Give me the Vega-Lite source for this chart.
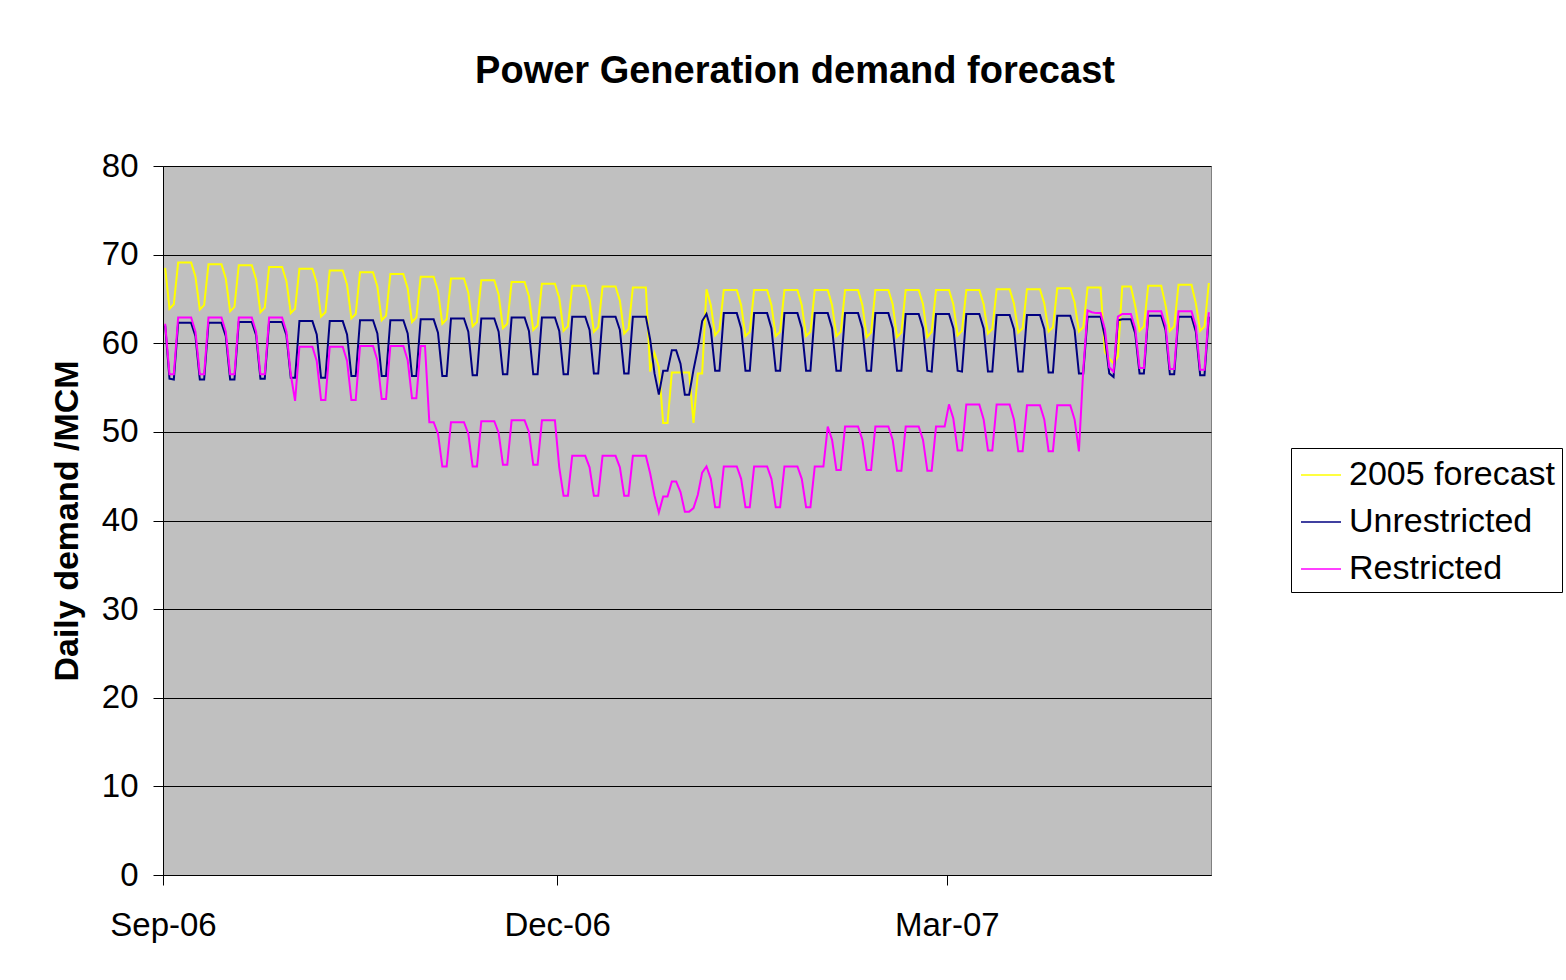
{
"$schema":"https://vega.github.io/schema/vega-lite/v6.json",
"width":1048,"height":709,
"autosize":{"type":"none"},
"padding":{"left":163,"top":166,"right":355,"bottom":105},
"background":"white",
"config":{"view":{"fill":"#C0C0C0","stroke":"#808080","strokeWidth":1},"font":"Liberation Sans"},
"title":{"text":"Power Generation demand forecast","font":"Liberation Sans","fontSize":38,"fontWeight":"bold","color":"black","anchor":"middle","frame":"group","dx":108,"baseline":"alphabetic","offset":29},
"data":{"values":[
{"d":"2006-09-01","f":68.5,"u":62.0,"r":62.2},
{"d":"2006-09-02","f":63.9,"u":56.0,"r":56.5},
{"d":"2006-09-03","f":64.4,"u":55.9,"r":56.5},
{"d":"2006-09-04","f":69.1,"u":62.3,"r":62.9},
{"d":"2006-09-05","f":69.1,"u":62.3,"r":62.9},
{"d":"2006-09-06","f":69.1,"u":62.3,"r":62.9},
{"d":"2006-09-07","f":69.1,"u":62.3,"r":62.9},
{"d":"2006-09-08","f":67.5,"u":60.8,"r":61.3},
{"d":"2006-09-09","f":63.8,"u":55.9,"r":56.5},
{"d":"2006-09-10","f":64.3,"u":55.9,"r":56.5},
{"d":"2006-09-11","f":68.9,"u":62.3,"r":62.9},
{"d":"2006-09-12","f":68.9,"u":62.3,"r":62.9},
{"d":"2006-09-13","f":68.9,"u":62.3,"r":62.9},
{"d":"2006-09-14","f":68.9,"u":62.3,"r":62.9},
{"d":"2006-09-15","f":67.3,"u":60.8,"r":61.3},
{"d":"2006-09-16","f":63.6,"u":55.9,"r":56.5},
{"d":"2006-09-17","f":64.1,"u":55.9,"r":56.5},
{"d":"2006-09-18","f":68.8,"u":62.4,"r":62.9},
{"d":"2006-09-19","f":68.8,"u":62.4,"r":62.9},
{"d":"2006-09-20","f":68.8,"u":62.4,"r":62.9},
{"d":"2006-09-21","f":68.8,"u":62.4,"r":62.9},
{"d":"2006-09-22","f":67.2,"u":60.9,"r":61.3},
{"d":"2006-09-23","f":63.5,"u":56.0,"r":56.5},
{"d":"2006-09-24","f":64.0,"u":56.0,"r":56.5},
{"d":"2006-09-25","f":68.6,"u":62.4,"r":62.9},
{"d":"2006-09-26","f":68.6,"u":62.4,"r":62.9},
{"d":"2006-09-27","f":68.6,"u":62.4,"r":62.9},
{"d":"2006-09-28","f":68.6,"u":62.4,"r":62.9},
{"d":"2006-09-29","f":67.0,"u":60.9,"r":61.3},
{"d":"2006-09-30","f":63.4,"u":56.1,"r":56.5},
{"d":"2006-10-01","f":63.9,"u":56.1,"r":53.5},
{"d":"2006-10-02","f":68.4,"u":62.5,"r":59.6},
{"d":"2006-10-03","f":68.4,"u":62.5,"r":59.6},
{"d":"2006-10-04","f":68.4,"u":62.5,"r":59.6},
{"d":"2006-10-05","f":68.4,"u":62.5,"r":59.6},
{"d":"2006-10-06","f":66.8,"u":61.0,"r":58.0},
{"d":"2006-10-07","f":63.0,"u":56.1,"r":53.6},
{"d":"2006-10-08","f":63.5,"u":56.1,"r":53.6},
{"d":"2006-10-09","f":68.2,"u":62.5,"r":59.6},
{"d":"2006-10-10","f":68.2,"u":62.5,"r":59.6},
{"d":"2006-10-11","f":68.2,"u":62.5,"r":59.6},
{"d":"2006-10-12","f":68.2,"u":62.5,"r":59.6},
{"d":"2006-10-13","f":66.6,"u":61.0,"r":58.0},
{"d":"2006-10-14","f":62.8,"u":56.3,"r":53.6},
{"d":"2006-10-15","f":63.3,"u":56.3,"r":53.6},
{"d":"2006-10-16","f":68.0,"u":62.6,"r":59.7},
{"d":"2006-10-17","f":68.0,"u":62.6,"r":59.7},
{"d":"2006-10-18","f":68.0,"u":62.6,"r":59.7},
{"d":"2006-10-19","f":68.0,"u":62.6,"r":59.7},
{"d":"2006-10-20","f":66.4,"u":61.1,"r":58.1},
{"d":"2006-10-21","f":62.6,"u":56.3,"r":53.7},
{"d":"2006-10-22","f":63.1,"u":56.3,"r":53.7},
{"d":"2006-10-23","f":67.8,"u":62.6,"r":59.7},
{"d":"2006-10-24","f":67.8,"u":62.6,"r":59.7},
{"d":"2006-10-25","f":67.8,"u":62.6,"r":59.7},
{"d":"2006-10-26","f":67.8,"u":62.6,"r":59.7},
{"d":"2006-10-27","f":66.2,"u":61.1,"r":58.1},
{"d":"2006-10-28","f":62.4,"u":56.3,"r":53.8},
{"d":"2006-10-29","f":62.9,"u":56.3,"r":53.8},
{"d":"2006-10-30","f":67.5,"u":62.7,"r":59.7},
{"d":"2006-10-31","f":67.5,"u":62.7,"r":59.7},
{"d":"2006-11-01","f":67.5,"u":62.7,"r":51.1},
{"d":"2006-11-02","f":67.5,"u":62.7,"r":51.1},
{"d":"2006-11-03","f":65.9,"u":61.2,"r":49.8},
{"d":"2006-11-04","f":62.2,"u":56.3,"r":46.1},
{"d":"2006-11-05","f":62.7,"u":56.3,"r":46.1},
{"d":"2006-11-06","f":67.3,"u":62.8,"r":51.1},
{"d":"2006-11-07","f":67.3,"u":62.8,"r":51.1},
{"d":"2006-11-08","f":67.3,"u":62.8,"r":51.1},
{"d":"2006-11-09","f":67.3,"u":62.8,"r":51.1},
{"d":"2006-11-10","f":65.7,"u":61.3,"r":49.8},
{"d":"2006-11-11","f":61.9,"u":56.4,"r":46.1},
{"d":"2006-11-12","f":62.4,"u":56.4,"r":46.1},
{"d":"2006-11-13","f":67.1,"u":62.8,"r":51.2},
{"d":"2006-11-14","f":67.1,"u":62.8,"r":51.2},
{"d":"2006-11-15","f":67.1,"u":62.8,"r":51.2},
{"d":"2006-11-16","f":67.1,"u":62.8,"r":51.2},
{"d":"2006-11-17","f":65.5,"u":61.3,"r":49.9},
{"d":"2006-11-18","f":61.7,"u":56.5,"r":46.3},
{"d":"2006-11-19","f":62.2,"u":56.5,"r":46.3},
{"d":"2006-11-20","f":66.9,"u":62.9,"r":51.3},
{"d":"2006-11-21","f":66.9,"u":62.9,"r":51.3},
{"d":"2006-11-22","f":66.9,"u":62.9,"r":51.3},
{"d":"2006-11-23","f":66.9,"u":62.9,"r":51.3},
{"d":"2006-11-24","f":65.3,"u":61.4,"r":50.0},
{"d":"2006-11-25","f":61.5,"u":56.5,"r":46.3},
{"d":"2006-11-26","f":62.0,"u":56.5,"r":46.3},
{"d":"2006-11-27","f":66.7,"u":62.9,"r":51.3},
{"d":"2006-11-28","f":66.7,"u":62.9,"r":51.3},
{"d":"2006-11-29","f":66.7,"u":62.9,"r":51.3},
{"d":"2006-11-30","f":66.7,"u":62.9,"r":51.3},
{"d":"2006-12-01","f":65.1,"u":61.4,"r":46.0},
{"d":"2006-12-02","f":61.4,"u":56.5,"r":42.8},
{"d":"2006-12-03","f":61.9,"u":56.5,"r":42.8},
{"d":"2006-12-04","f":66.5,"u":63.0,"r":47.3},
{"d":"2006-12-05","f":66.5,"u":63.0,"r":47.3},
{"d":"2006-12-06","f":66.5,"u":63.0,"r":47.3},
{"d":"2006-12-07","f":66.5,"u":63.0,"r":47.3},
{"d":"2006-12-08","f":64.9,"u":61.5,"r":46.0},
{"d":"2006-12-09","f":61.3,"u":56.6,"r":42.8},
{"d":"2006-12-10","f":61.8,"u":56.6,"r":42.8},
{"d":"2006-12-11","f":66.4,"u":63.0,"r":47.3},
{"d":"2006-12-12","f":66.4,"u":63.0,"r":47.3},
{"d":"2006-12-13","f":66.4,"u":63.0,"r":47.3},
{"d":"2006-12-14","f":66.4,"u":63.0,"r":47.3},
{"d":"2006-12-15","f":64.8,"u":61.5,"r":46.0},
{"d":"2006-12-16","f":61.1,"u":56.6,"r":42.8},
{"d":"2006-12-17","f":61.6,"u":56.6,"r":42.8},
{"d":"2006-12-18","f":66.3,"u":63.0,"r":47.3},
{"d":"2006-12-19","f":66.3,"u":63.0,"r":47.3},
{"d":"2006-12-20","f":66.3,"u":63.0,"r":47.3},
{"d":"2006-12-21","f":66.3,"u":63.0,"r":47.3},
{"d":"2006-12-22","f":56.8,"u":60.4,"r":45.3},
{"d":"2006-12-23","f":58.9,"u":56.6,"r":42.8},
{"d":"2006-12-24","f":57.3,"u":54.2,"r":40.9},
{"d":"2006-12-25","f":51.0,"u":56.9,"r":42.7},
{"d":"2006-12-26","f":51.0,"u":56.9,"r":42.7},
{"d":"2006-12-27","f":56.7,"u":59.2,"r":44.4},
{"d":"2006-12-28","f":56.7,"u":59.2,"r":44.4},
{"d":"2006-12-29","f":56.7,"u":57.7,"r":43.2},
{"d":"2006-12-30","f":56.7,"u":54.2,"r":41.0},
{"d":"2006-12-31","f":56.7,"u":54.2,"r":41.0},
{"d":"2007-01-01","f":51.0,"u":57.0,"r":41.4},
{"d":"2007-01-02","f":56.6,"u":59.4,"r":42.9},
{"d":"2007-01-03","f":56.6,"u":62.5,"r":45.4},
{"d":"2007-01-04","f":66.1,"u":63.3,"r":46.1},
{"d":"2007-01-05","f":64.3,"u":61.6,"r":44.7},
{"d":"2007-01-06","f":60.9,"u":56.9,"r":41.5},
{"d":"2007-01-07","f":61.5,"u":56.9,"r":41.5},
{"d":"2007-01-08","f":66.0,"u":63.4,"r":46.1},
{"d":"2007-01-09","f":66.0,"u":63.4,"r":46.1},
{"d":"2007-01-10","f":66.0,"u":63.4,"r":46.1},
{"d":"2007-01-11","f":66.0,"u":63.4,"r":46.1},
{"d":"2007-01-12","f":64.3,"u":61.7,"r":44.7},
{"d":"2007-01-13","f":60.8,"u":56.9,"r":41.5},
{"d":"2007-01-14","f":61.3,"u":56.9,"r":41.5},
{"d":"2007-01-15","f":66.0,"u":63.4,"r":46.1},
{"d":"2007-01-16","f":66.0,"u":63.4,"r":46.1},
{"d":"2007-01-17","f":66.0,"u":63.4,"r":46.1},
{"d":"2007-01-18","f":66.0,"u":63.4,"r":46.1},
{"d":"2007-01-19","f":64.3,"u":61.7,"r":44.7},
{"d":"2007-01-20","f":60.8,"u":56.9,"r":41.5},
{"d":"2007-01-21","f":61.3,"u":56.9,"r":41.5},
{"d":"2007-01-22","f":66.0,"u":63.4,"r":46.1},
{"d":"2007-01-23","f":66.0,"u":63.4,"r":46.1},
{"d":"2007-01-24","f":66.0,"u":63.4,"r":46.1},
{"d":"2007-01-25","f":66.0,"u":63.4,"r":46.1},
{"d":"2007-01-26","f":64.3,"u":61.7,"r":44.7},
{"d":"2007-01-27","f":60.8,"u":56.9,"r":41.5},
{"d":"2007-01-28","f":61.3,"u":56.9,"r":41.5},
{"d":"2007-01-29","f":66.0,"u":63.4,"r":46.1},
{"d":"2007-01-30","f":66.0,"u":63.4,"r":46.1},
{"d":"2007-01-31","f":66.0,"u":63.4,"r":46.1},
{"d":"2007-02-01","f":66.0,"u":63.4,"r":50.6},
{"d":"2007-02-02","f":64.3,"u":61.7,"r":49.1},
{"d":"2007-02-03","f":60.8,"u":56.9,"r":45.7},
{"d":"2007-02-04","f":61.3,"u":56.9,"r":45.7},
{"d":"2007-02-05","f":66.0,"u":63.4,"r":50.6},
{"d":"2007-02-06","f":66.0,"u":63.4,"r":50.6},
{"d":"2007-02-07","f":66.0,"u":63.4,"r":50.6},
{"d":"2007-02-08","f":66.0,"u":63.4,"r":50.6},
{"d":"2007-02-09","f":64.3,"u":61.7,"r":49.1},
{"d":"2007-02-10","f":60.7,"u":56.9,"r":45.7},
{"d":"2007-02-11","f":61.2,"u":56.9,"r":45.7},
{"d":"2007-02-12","f":66.0,"u":63.4,"r":50.6},
{"d":"2007-02-13","f":66.0,"u":63.4,"r":50.6},
{"d":"2007-02-14","f":66.0,"u":63.4,"r":50.6},
{"d":"2007-02-15","f":66.0,"u":63.4,"r":50.6},
{"d":"2007-02-16","f":64.4,"u":61.7,"r":49.1},
{"d":"2007-02-17","f":60.7,"u":56.9,"r":45.6},
{"d":"2007-02-18","f":61.2,"u":56.9,"r":45.6},
{"d":"2007-02-19","f":66.0,"u":63.3,"r":50.6},
{"d":"2007-02-20","f":66.0,"u":63.3,"r":50.6},
{"d":"2007-02-21","f":66.0,"u":63.3,"r":50.6},
{"d":"2007-02-22","f":66.0,"u":63.3,"r":50.6},
{"d":"2007-02-23","f":64.4,"u":61.7,"r":49.1},
{"d":"2007-02-24","f":60.7,"u":56.9,"r":45.6},
{"d":"2007-02-25","f":61.3,"u":56.8,"r":45.6},
{"d":"2007-02-26","f":66.0,"u":63.3,"r":50.6},
{"d":"2007-02-27","f":66.0,"u":63.3,"r":50.6},
{"d":"2007-02-28","f":66.0,"u":63.3,"r":50.6},
{"d":"2007-03-01","f":66.0,"u":63.3,"r":53.1},
{"d":"2007-03-02","f":64.4,"u":61.7,"r":51.5},
{"d":"2007-03-03","f":60.9,"u":56.9,"r":47.9},
{"d":"2007-03-04","f":61.4,"u":56.8,"r":47.9},
{"d":"2007-03-05","f":66.0,"u":63.3,"r":53.1},
{"d":"2007-03-06","f":66.0,"u":63.3,"r":53.1},
{"d":"2007-03-07","f":66.0,"u":63.3,"r":53.1},
{"d":"2007-03-08","f":66.0,"u":63.3,"r":53.1},
{"d":"2007-03-09","f":64.4,"u":61.7,"r":51.4},
{"d":"2007-03-10","f":61.1,"u":56.8,"r":47.9},
{"d":"2007-03-11","f":61.6,"u":56.8,"r":47.9},
{"d":"2007-03-12","f":66.1,"u":63.2,"r":53.1},
{"d":"2007-03-13","f":66.1,"u":63.2,"r":53.1},
{"d":"2007-03-14","f":66.1,"u":63.2,"r":53.1},
{"d":"2007-03-15","f":66.1,"u":63.2,"r":53.1},
{"d":"2007-03-16","f":64.5,"u":61.6,"r":51.4},
{"d":"2007-03-17","f":61.2,"u":56.8,"r":47.8},
{"d":"2007-03-18","f":61.7,"u":56.8,"r":47.8},
{"d":"2007-03-19","f":66.1,"u":63.2,"r":53.0},
{"d":"2007-03-20","f":66.1,"u":63.2,"r":53.0},
{"d":"2007-03-21","f":66.1,"u":63.2,"r":53.0},
{"d":"2007-03-22","f":66.1,"u":63.2,"r":53.0},
{"d":"2007-03-23","f":64.5,"u":61.6,"r":51.4},
{"d":"2007-03-24","f":61.3,"u":56.7,"r":47.8},
{"d":"2007-03-25","f":61.8,"u":56.7,"r":47.8},
{"d":"2007-03-26","f":66.2,"u":63.1,"r":53.0},
{"d":"2007-03-27","f":66.2,"u":63.1,"r":53.0},
{"d":"2007-03-28","f":66.2,"u":63.1,"r":53.0},
{"d":"2007-03-29","f":66.2,"u":63.1,"r":53.0},
{"d":"2007-03-30","f":64.6,"u":61.5,"r":51.4},
{"d":"2007-03-31","f":61.3,"u":56.6,"r":47.8},
{"d":"2007-04-01","f":61.8,"u":56.6,"r":57.0},
{"d":"2007-04-02","f":66.3,"u":63.0,"r":63.7},
{"d":"2007-04-03","f":66.3,"u":63.0,"r":63.5},
{"d":"2007-04-04","f":66.3,"u":63.0,"r":63.4},
{"d":"2007-04-05","f":66.3,"u":63.0,"r":63.4},
{"d":"2007-04-06","f":59.0,"u":60.7,"r":61.6},
{"d":"2007-04-07","f":58.3,"u":56.6,"r":57.3},
{"d":"2007-04-08","f":57.7,"u":56.2,"r":56.8},
{"d":"2007-04-09","f":58.5,"u":62.6,"r":63.0},
{"d":"2007-04-10","f":66.4,"u":62.7,"r":63.3},
{"d":"2007-04-11","f":66.4,"u":62.7,"r":63.3},
{"d":"2007-04-12","f":66.4,"u":62.7,"r":63.3},
{"d":"2007-04-13","f":64.2,"u":61.1,"r":61.7},
{"d":"2007-04-14","f":61.4,"u":56.6,"r":57.2},
{"d":"2007-04-15","f":61.9,"u":56.6,"r":57.2},
{"d":"2007-04-16","f":66.5,"u":63.1,"r":63.6},
{"d":"2007-04-17","f":66.5,"u":63.1,"r":63.6},
{"d":"2007-04-18","f":66.5,"u":63.1,"r":63.6},
{"d":"2007-04-19","f":66.5,"u":63.1,"r":63.6},
{"d":"2007-04-20","f":64.3,"u":61.5,"r":62.0},
{"d":"2007-04-21","f":61.4,"u":56.5,"r":57.1},
{"d":"2007-04-22","f":61.9,"u":56.5,"r":57.1},
{"d":"2007-04-23","f":66.6,"u":63.0,"r":63.6},
{"d":"2007-04-24","f":66.6,"u":63.0,"r":63.6},
{"d":"2007-04-25","f":66.6,"u":63.0,"r":63.6},
{"d":"2007-04-26","f":66.6,"u":63.0,"r":63.6},
{"d":"2007-04-27","f":64.5,"u":61.3,"r":61.9},
{"d":"2007-04-28","f":61.4,"u":56.4,"r":57.0},
{"d":"2007-04-29","f":61.9,"u":56.4,"r":57.0},
{"d":"2007-04-30","f":66.8,"u":63.0,"r":63.5}
]},
"encoding":{
"x":{"field":"d","type":"temporal","timeUnit":"utcyearmonthdate","bandPosition":0.5,"title":null,
"scale":{"type":"utc","domain":[{"year":2006,"month":9,"date":1,"utc":true},{"year":2007,"month":5,"date":1,"utc":true}]},
"axis":{"values":[{"year":2006,"month":9,"date":1,"utc":true},{"year":2006,"month":12,"date":1,"utc":true},{"year":2007,"month":3,"date":1,"utc":true}],
"format":"%b-%y","grid":false,"domainColor":"black","domainWidth":1,"tickColor":"black","tickSize":10,"tickWidth":1,
"labelFont":"Liberation Sans","labelFontSize":33,"labelColor":"black","labelBaseline":"alphabetic","labelPadding":50,"labelFlush":false,"labelOverlap":false,"labelAlign":"center"}}
},
"layer":[
{"mark":{"type":"line","strokeWidth":2,"clip":true},
 "encoding":{"y":{"field":"f","type":"quantitative","title":"Daily demand /MCM",
   "scale":{"domain":[0,80],"nice":false,"zero":true},
   "axis":{"values":[0,10,20,30,40,50,60,70,80],"grid":true,"gridColor":"black","gridWidth":1,"gridOpacity":1,
   "domainColor":"black","domainWidth":1,"tickColor":"black","tickSize":10,"tickWidth":1,
   "labelFont":"Liberation Sans","labelFontSize":33,"labelColor":"black","labelPadding":15,"labelFlush":false,"labelOverlap":false,
   "titleFont":"Liberation Sans","titleFontSize":34,"titleFontWeight":"bold","titleColor":"black","titleAngle":270,"titleX":-86,"titleY":354.5,"titleBaseline":"alphabetic","titleAlign":"center"}},
  "color":{"datum":"2005 forecast","type":"nominal",
   "scale":{"domain":["2005 forecast","Unrestricted","Restricted"],"range":["#FFFF00","#000080","#FF00FF"]},
   "legend":{"title":null,"orient":"none","legendX":1128,"legendY":282,"symbolType":"stroke","symbolSize":1600,"symbolStrokeWidth":1.5,"symbolOffset":3,
   "labelFont":"Liberation Sans","labelFontSize":34,"labelColor":"black","labelOffset":7,"labelLimit":0,"rowPadding":9,"padding":6,
   "strokeColor":"black","fillColor":"white","cornerRadius":0}}}},
{"mark":{"type":"line","strokeWidth":2,"clip":true},
 "encoding":{"y":{"field":"u","type":"quantitative"},"color":{"datum":"Unrestricted","type":"nominal"}}},
{"mark":{"type":"line","strokeWidth":2,"clip":true},
 "encoding":{"y":{"field":"r","type":"quantitative"},"color":{"datum":"Restricted","type":"nominal"}}}
]
}
